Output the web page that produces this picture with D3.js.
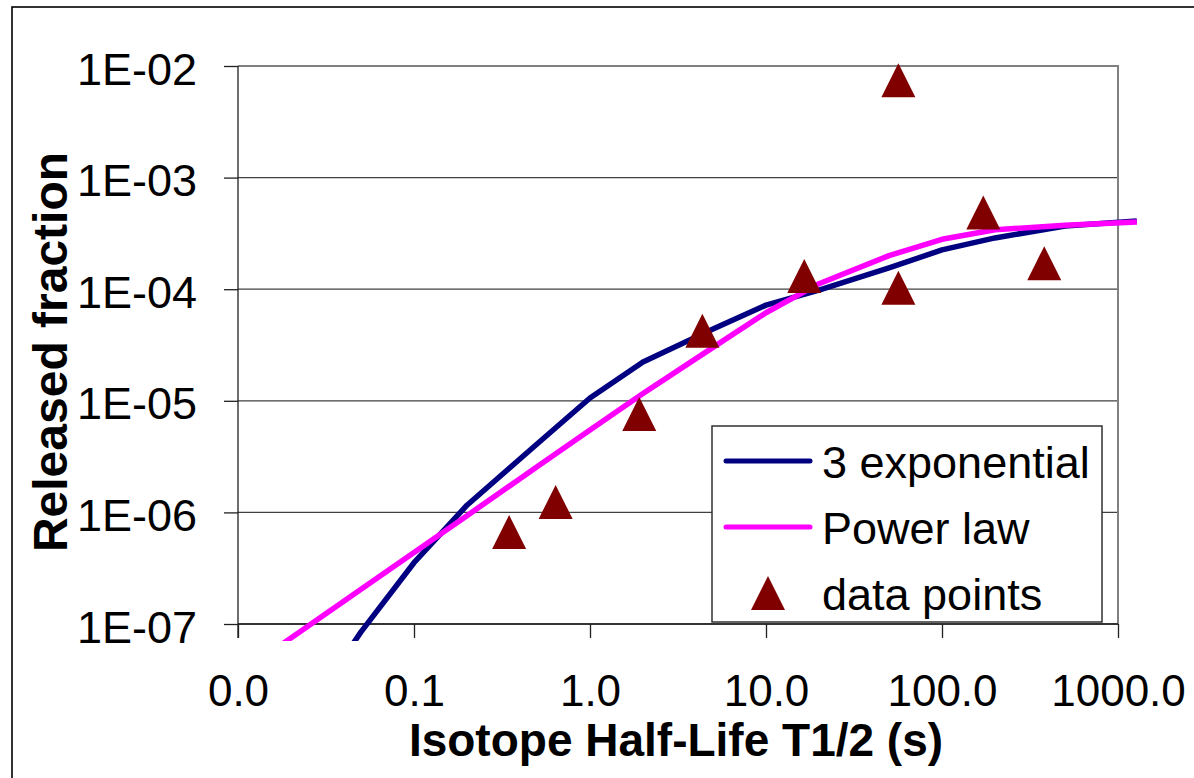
<!DOCTYPE html>
<html>
<head>
<meta charset="utf-8">
<script src="https://cdn.jsdelivr.net/npm/d3@7"></script>
<style>
  html, body { margin: 0; padding: 0; background: #fff; }
  svg { display: block; font-family: "Liberation Sans", Arial, sans-serif; }
</style>
</head>
<body>
<svg id="chart" width="1194" height="778"></svg>
<script>
// Half-life grid for the fitted curves (s)
const fitHalfLife = [0.01, 0.02, 0.05, 0.1, 0.2, 0.5, 1, 2, 5, 10, 20, 50, 100, 200, 500, 1280];
// Three-exponential fit
const expFit = [1.9e-9, 1.0e-8, 8.5e-8, 3.54e-7, 1.16e-6, 4.1e-6, 1.06e-5, 2.23e-5, 4.4e-5, 7.2e-5, 9.8e-5, 1.55e-4, 2.25e-4, 2.88e-4, 3.68e-4, 4.08e-4];
// Power-law fit
const powerFit = [3.5e-8, 7.5e-8, 2.05e-7, 4.38e-7, 9.35e-7, 2.56e-6, 5.47e-6, 1.16e-5, 3.01e-5, 6.15e-5, 1.12e-4, 2.0e-4, 2.8e-4, 3.41e-4, 3.74e-4, 4.0e-4];

// Measured points
const pointHalfLife = [0.347, 0.638, 1.905, 4.35, 16.5, 56.5, 56.5, 171.7, 381];
const pointFraction = [6.67e-7, 1.24e-6, 7.62e-6, 4.25e-5, 1.31e-4, 7.44e-3, 1.03e-4, 4.87e-4, 1.71e-4];

// Axis ticks
const xTicks = [0.01, 0.1, 1, 10, 100, 1000];
const xTickLabels = ["0.0", "0.1", "1.0", "10.0", "100.0", "1000.0"];
const yTicks = [1e-7, 1e-6, 1e-5, 1e-4, 1e-3, 1e-2];
const yTickLabels = ["1E-07", "1E-06", "1E-05", "1E-04", "1E-03", "1E-02"];

const seriesNames = ["3 exponential", "Power law", "data points"];
const colors = { exp: "#000080", power: "#FF00FF", points: "#800000" };

const svg = d3.select("#chart");
const plot = { left: 238, right: 1118, top: 66, bottom: 624 };

const x = d3.scaleLog().domain([0.01, 1000]).range([plot.left, plot.right]);
const y = d3.scaleLog().domain([1e-7, 1e-2]).range([plot.bottom, plot.top]);

// outer chart frame
svg.append("rect")
  .attr("x", 12).attr("y", 7)
  .attr("width", 1200).attr("height", 800)
  .attr("fill", "#fff").attr("stroke", "#000").attr("stroke-width", 1.6);

// horizontal gridlines
svg.append("g").selectAll("line")
  .data(yTicks)
  .join("line")
  .attr("x1", plot.left).attr("x2", plot.right)
  .attr("y1", d => y(d)).attr("y2", d => y(d))
  .attr("stroke", "#404040").attr("stroke-width", 1.3);

// plot area top and right edges
svg.append("path")
  .attr("d", `M${plot.left},${plot.top}H${plot.right}V${plot.bottom}`)
  .attr("fill", "none").attr("stroke", "#808080").attr("stroke-width", 2);

// y axis
const yAxis = svg.append("g")
  .attr("transform", `translate(${plot.left},0)`)
  .call(d3.axisLeft(y).tickValues(yTicks).tickSize(14).tickPadding(27)
    .tickFormat((d, i) => yTickLabels[i]));
yAxis.select(".domain").attr("d", `M0,${plot.top}V${plot.bottom + 14}`)
  .attr("stroke", "#202020").attr("stroke-width", 1.3);
yAxis.selectAll(".tick line").attr("stroke", "#202020").attr("stroke-width", 1.3);
yAxis.selectAll(".tick text")
  .attr("font-family", "Liberation Sans, Arial, sans-serif")
  .attr("font-size", 45).attr("fill", "#000").attr("dy", 18);

// x axis
const xAxis = svg.append("g")
  .attr("transform", `translate(0,${plot.bottom})`)
  .call(d3.axisBottom(x).tickValues(xTicks).tickSize(14)
    .tickFormat((d, i) => xTickLabels[i]));
xAxis.select(".domain").attr("d", `M${plot.left},0H${plot.right}`)
  .attr("stroke", "#202020").attr("stroke-width", 1.3);
xAxis.selectAll(".tick line").attr("stroke", "#202020").attr("stroke-width", 1.3);
xAxis.selectAll(".tick text")
  .attr("font-family", "Liberation Sans, Arial, sans-serif")
  .attr("font-size", 44).attr("fill", "#000")
  .attr("y", 82).attr("dy", 0);

// fitted curves, trimmed just below the bottom axis
svg.append("clipPath").attr("id", "curveClip")
  .append("rect").attr("x", 0).attr("y", 0).attr("width", 1194).attr("height", 641);

const line = d3.line().x(d => x(d[0])).y(d => y(d[1]));
const curves = svg.append("g").attr("clip-path", "url(#curveClip)");
curves.append("path")
  .datum(fitHalfLife.map((t, i) => [t, expFit[i]]))
  .attr("d", line).attr("fill", "none")
  .attr("stroke", colors.exp).attr("stroke-width", 5.5).attr("stroke-linejoin", "round");
curves.append("path")
  .datum(fitHalfLife.map((t, i) => [t, powerFit[i]]))
  .attr("d", line).attr("fill", "none")
  .attr("stroke", colors.power).attr("stroke-width", 5.5).attr("stroke-linejoin", "round");

// triangle markers
const tri = 17;
const trianglePath = (cx, cy) => `M${cx},${cy - tri}L${cx + tri},${cy + tri}L${cx - tri},${cy + tri}Z`;
svg.append("g").selectAll("path")
  .data(pointHalfLife.map((t, i) => [t, pointFraction[i]]))
  .join("path")
  .attr("d", d => trianglePath(x(d[0]), y(d[1])))
  .attr("fill", colors.points);

// legend
const legend = svg.append("g");
legend.append("rect")
  .attr("x", 712).attr("y", 426).attr("width", 390).attr("height", 196)
  .attr("fill", "#fff").attr("stroke", "#303030").attr("stroke-width", 1.5);
const rows = [461, 527, 593];
[colors.exp, colors.power].forEach((c, i) => {
  legend.append("line")
    .attr("x1", 726).attr("x2", 810).attr("y1", rows[i]).attr("y2", rows[i])
    .attr("stroke", c).attr("stroke-width", 5).attr("stroke-linecap", "round");
});
legend.append("path").attr("d", trianglePath(768, rows[2])).attr("fill", colors.points);
legend.selectAll("text")
  .data(seriesNames)
  .join("text")
  .attr("x", 822).attr("y", (d, i) => rows[i] + 17)
  .attr("font-size", 45).attr("fill", "#000")
  .text(d => d);

// axis titles
svg.append("text")
  .attr("x", (plot.left + plot.right) / 2 - 2).attr("y", 756)
  .attr("text-anchor", "middle").attr("font-weight", "bold").attr("font-size", 46)
  .text("Isotope Half-Life T1/2 (s)");
svg.append("text")
  .attr("transform", "translate(67,352) rotate(-90)")
  .attr("text-anchor", "middle").attr("font-weight", "bold").attr("font-size", 48)
  .text("Released fraction");
</script>
</body>
</html>
